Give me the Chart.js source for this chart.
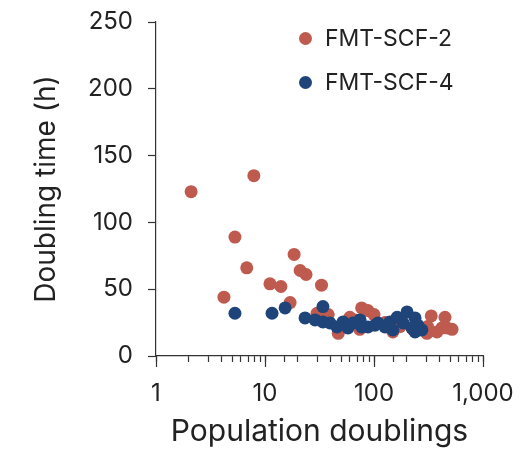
<!DOCTYPE html>
<html>
<head>
<meta charset="utf-8">
<script src="https://cdn.jsdelivr.net/npm/chart.js@4.4.0/dist/chart.umd.min.js"></script>
<style>
	html, body { margin: 0; padding: 0; background: #fff; }
	#wrap { position: relative; width: 526px; height: 455px; }
	.legend { position: absolute; left: 299px; font-family: Inter, sans-serif; font-size: 23px; color: #222; display: flex; align-items: center; }
	.legend span.dot { width: 13px; height: 13px; border-radius: 50%; display: inline-block; margin-right: 13px; }
</style>
</head>
<body>
<div id="wrap">
	<canvas id="chart" width="526" height="455"></canvas>
	<div class="legend" style="top: 24px;"><span class="dot" style="background:#bf5a4f"></span>FMT-SCF-2</div>
	<div class="legend" style="top: 68px;"><span class="dot" style="background:#1f4479"></span>FMT-SCF-4</div>
</div>
<script>
// data
const scf2X = [2.1, 4.2, 5.3, 6.8, 7.9, 11.1, 14, 17, 18.5, 21, 23.8, 33, 30, 47, 38, 60, 77, 88, 100, 149, 228, 306, 335, 448, 378, 468, 520, 310, 420, 253, 67, 126, 173, 74];
const scf2Y = [123, 44, 89, 66, 135, 54, 52, 40, 76, 64, 61, 53, 32, 17, 31, 29, 36, 34, 31, 18, 20, 17, 30, 29, 18, 21, 20, 22, 21, 20, 27, 25, 22, 20];
const scf4X = [5.3, 11.6, 15.3, 34, 23.3, 28.8, 34, 39.5, 45.7, 52, 57.7, 64, 74.5, 77, 88, 102, 109, 140, 163, 201, 238, 253, 275, 185, 126, 222, 149, 238];
const scf4Y = [32, 32, 36, 37, 28.5, 27, 25.5, 24.7, 21.7, 25.5, 21, 24.7, 27, 21.7, 21.7, 23, 24.7, 25.5, 29, 33, 28.5, 23, 19.5, 24.7, 21.7, 21, 19.5, 18];
const majorTicks = [1, 10, 100, 1000];
const yTicks = [0, 50, 100, 150, 200, 250];

const axisColor = "#333333";
const textColor = "#222222";

function toPoints(xs, ys) {
	return xs.map((x, i) => ({ x: x, y: ys[i] }));
}

// longer ticks at the decades
const majorTickPlugin = {
	id: "majorTicks",
	afterDraw(chart) {
		const ctx = chart.ctx;
		const xs = chart.scales.x;
		ctx.save();
		ctx.strokeStyle = axisColor;
		ctx.lineWidth = 1.2;
		majorTicks.forEach((v) => {
			const px = Math.round(xs.getPixelForValue(v)) + 0.5;
			ctx.beginPath();
			ctx.moveTo(px, xs.top);
			ctx.lineTo(px, xs.top + 11);
			ctx.stroke();
		});
		ctx.restore();
	},
};

const ctx = document.getElementById("chart").getContext("2d");
const chart = new Chart(ctx, {
	type: "scatter",
	data: {
		datasets: [
			{
				label: "FMT-SCF-2",
				data: toPoints(scf2X, scf2Y),
				backgroundColor: "#bf5a4f",
				borderWidth: 0,
				pointRadius: 6.5,
				order: 2,
			},
			{
				label: "FMT-SCF-4",
				data: toPoints(scf4X, scf4Y),
				backgroundColor: "#1f4479",
				borderWidth: 0,
				pointRadius: 6.5,
				order: 1,
			},
		],
	},
	options: {
		responsive: false,
		animation: false,
		layout: {
			padding: { top: 22, right: 43, left: 0, bottom: 0 },
		},
		scales: {
			x: {
				type: "logarithmic",
				min: 1,
				max: 1000,
				afterFit: (scale) => {
					scale.height = 99;
					scale.paddingLeft = 0;
					scale.paddingRight = 0;
				},
				grid: {
					drawOnChartArea: false,
					drawTicks: true,
					tickLength: 6,
					tickWidth: 1.2,
					tickColor: axisColor,
				},
				border: { display: true, color: axisColor, width: 1.2 },
				ticks: {
					autoSkip: false,
					maxRotation: 0,
					padding: 17,
					color: textColor,
					font: { family: "Inter", size: 24 },
					callback: (value) => (majorTicks.includes(value) ? value.toLocaleString("en-US") : ""),
				},
				title: {
					display: true,
					text: "Population doublings",
					color: textColor,
					font: { family: "Inter", size: 30 },
					padding: { top: 0, bottom: 5 },
				},
			},
			y: {
				min: 0,
				max: 250,
				afterFit: (scale) => {
					scale.width = 156;
					scale.paddingTop = 0;
					scale.paddingBottom = 0;
				},
				afterBuildTicks: (scale) => { scale.ticks = yTicks.map((v) => ({ value: v })); },
				grid: {
					drawOnChartArea: false,
					drawTicks: true,
					tickLength: 8,
					tickWidth: 1.2,
					tickColor: axisColor,
				},
				border: { display: true, color: axisColor, width: 1.2 },
				ticks: {
					padding: 15,
					color: textColor,
					font: { family: "Inter", size: 24 },
				},
				title: {
					display: true,
					text: "Doubling time (h)",
					color: textColor,
					font: { family: "Inter", size: 28 },
					padding: { top: 30, bottom: 0 },
				},
			},
		},
		plugins: {
			legend: { display: false },
			tooltip: { enabled: false },
		},
	},
	plugins: [majorTickPlugin],
});
</script>
</body>
</html>
